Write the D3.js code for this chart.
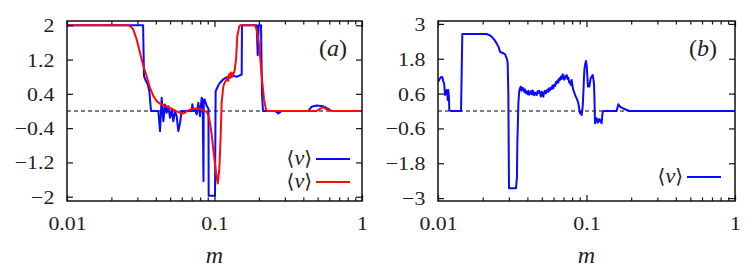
<!DOCTYPE html>
<html>
<head>
<meta charset="utf-8">
<script src="https://cdn.jsdelivr.net/npm/d3@7"></script>
<style>
body { margin: 0; background: #fff; }
svg { display: block; }
svg text { font-family: "Times New Roman", Times, "Liberation Serif", "DejaVu Serif", serif; }
</style>
</head>
<body>
<div id="chart"></div>
<script>
const width = 750;
const height = 275;

// panel (a), blue curve
const mBlueA = [0.01, 0.0328, 0.03327, 0.03433, 0.03524, 0.03617, 0.03712, 0.04161, 0.04272, 0.04384,
  0.04500, 0.04618, 0.04739, 0.04864, 0.04993, 0.05124, 0.05259, 0.05398, 0.05540, 0.05686,
  0.05836, 0.05989, 0.07001, 0.07074, 0.07186, 0.07376, 0.07571, 0.07770, 0.07973, 0.08185,
  0.08314, 0.0842, 0.0845, 0.0858, 0.0885, 0.0910, 0.0913, 0.1008, 0.1018, 0.1062,
  0.1090, 0.1148, 0.1209, 0.1274, 0.1342, 0.1413, 0.1529, 0.1535, 0.1932, 0.1963,
  0.1994, 0.2067, 0.2099, 0.2132, 0.2571, 0.2709, 0.2854, 0.4327, 0.4559, 0.4928,
  0.5470, 0.5911, 0.6229, 1];
const vBlueA = [2, 2, 0.81, 0.70, 0.62, 0.46, 0, 0, -0.47, 0.31,
  -0.24, 0.15, -0.04, 0.11, -0.16, 0.04, -0.24, 0, -0.12, -0.47,
  -0.28, 0, 0, 0.16, 0, 0.03, -0.08, 0.19, -0.12, 0.31,
  0.27, -1.64, 0.15, 0.27, 0.12, 0.05, -1.98, -1.98, 0.46, 0.6,
  0.66, 0.74, 0.79, 0.78, 0.82, 0.80, 0.85, 2, 2, 1.3,
  2, 2, 0.4, 0, 0, -0.06, 0, 0, 0.1, 0.13,
  0.11, 0.05, 0, 0];

// panel (a), red curve
const mRedA = [0.01, 0.02605, 0.02710, 0.02817, 0.02967, 0.03126, 0.03292, 0.03468, 0.03654, 0.03849,
  0.04054, 0.04272, 0.04500, 0.04739, 0.05000, 0.05259, 0.05550, 0.05836, 0.06147, 0.06477,
  0.06800, 0.07186, 0.07600, 0.07973, 0.08400, 0.08848, 0.09100, 0.09322, 0.09570, 0.09820,
  0.1024, 0.1051, 0.1078, 0.1101, 0.1118, 0.1148, 0.1180, 0.1209, 0.1225, 0.1240,
  0.1255, 0.1274, 0.1290, 0.1310, 0.1325, 0.1342, 0.1370, 0.1399, 0.1428, 0.1473,
  0.1489, 0.1882, 0.1932, 0.2014, 0.2089, 0.2166, 0.2235, 0.2282, 0.4928, 0.5191,
  0.5470, 0.5762, 0.6229, 1];
const vRedA = [2, 2, 1.97, 1.9, 1.67, 1.36, 1.05, 0.81, 0.54, 0.35,
  0.23, 0.17, 0.14, 0.11, 0.07, 0.03, -0.01, -0.04, -0.06, -0.01,
  0.03, 0.05, 0.06, 0.05, 0.02, -0.02, -0.10, -0.28, -0.55, -0.9,
  -1.44, -1.69, -1.36, -0.59, 0.19, 0.58, 0.68, 0.73, 0.80, 0.70,
  0.86, 0.78, 0.90, 0.80, 0.88, 0.85, 0.95, 1.2, 1.75, 1.98,
  2, 2, 1.9, 1.51, 0.81, 0.27, 0.03, 0, 0, 0.05,
  0.09, 0.04, 0, 0];

// panel (b), blue curve
const mBlueB = [0.01, 0.01030, 0.01059, 0.01072, 0.01086, 0.01100, 0.01115, 0.01130, 0.01144, 0.01155,
  0.01162, 0.01168, 0.01174, 0.01185, 0.01192, 0.01217, 0.01429, 0.01458, 0.02127, 0.02210,
  0.02298, 0.02390, 0.02484, 0.02560, 0.02616, 0.02754, 0.02830, 0.02871, 0.02920, 0.02946,
  0.02976, 0.03007, 0.03352, 0.03400, 0.03422, 0.03480, 0.03530, 0.03604, 0.03650, 0.03700,
  0.03754, 0.03800, 0.03850, 0.03900, 0.03954, 0.04010, 0.04060, 0.04110, 0.04165, 0.04220,
  0.04280, 0.04330, 0.04385, 0.04440, 0.04500, 0.04560, 0.04618, 0.04680, 0.04740, 0.04800,
  0.04863, 0.04930, 0.05000, 0.05060, 0.05121, 0.05180, 0.05250, 0.05320, 0.05393, 0.05460,
  0.05540, 0.05600, 0.05679, 0.05750, 0.05830, 0.05900, 0.05981, 0.06060, 0.06140, 0.06220,
  0.06298, 0.06380, 0.06460, 0.06540, 0.06631, 0.06720, 0.06800, 0.06900, 0.06982, 0.07070,
  0.07167, 0.07260, 0.07354, 0.07450, 0.07550, 0.07650, 0.07744, 0.07846, 0.07946, 0.08050,
  0.08154, 0.08300, 0.08450, 0.08587, 0.08700, 0.08810, 0.08920, 0.09041, 0.09160, 0.09279,
  0.09424, 0.09520, 0.09621, 0.09720, 0.09820, 0.09920, 0.1003, 0.1013, 0.1024, 0.1045,
  0.1067, 0.1085, 0.1100, 0.1112, 0.1123, 0.1132, 0.1141, 0.1156, 0.1171, 0.1187,
  0.1202, 0.1218, 0.1233, 0.1250, 0.1265, 0.1275, 0.1285, 0.1312, 0.1596, 0.1638,
  0.1681, 0.1750, 0.1817, 0.1943, 1];
const vBlueB = [1.0, 1.12, 1.18, 1.15, 1.01, 0.95, 0.55, 0.60, 0.72, 0.65,
  0.38, 0.55, 0.72, 0.45, 0.03, 0, 0, 2.65, 2.65, 2.62,
  2.56, 2.46, 2.33, 2.2, 2.04, 1.99, 1.95, 1.87, 1.78, 1.64,
  0.61, -2.66, -2.66, -2.3, -1.11, 0.3, 0.72, 0.84, 0.70, 0.80,
  0.78, 0.66, 0.74, 0.62, 0.67, 0.58, 0.70, 0.56, 0.61, 0.68,
  0.57, 0.71, 0.67, 0.54, 0.63, 0.58, 0.55, 0.68, 0.62, 0.70,
  0.61, 0.50, 0.66, 0.60, 0.49, 0.64, 0.70, 0.60, 0.67, 0.74,
  0.66, 0.78, 0.72, 0.80, 0.76, 0.88, 0.78, 0.90, 0.86, 1.00,
  0.95, 1.05, 0.98, 1.12, 1.07, 1.18, 1.10, 1.26, 1.24, 1.08,
  1.13, 1.20, 1.24, 1.10, 1.15, 0.98, 1.01, 0.90, 1.07, 0.85,
  0.72, 0.62, 0.50, 0.44, 0.36, 0.26, 0.10, -0.08, -0.02, -0.14,
  0.15, 0.60, 1.18, 1.52, 1.64, 1.72, 1.58, 1.20, 0.84, 0.84,
  1.13, 1.18, 1.24, 1.10, 0.95, 0.40, -0.42, -0.30, -0.25, -0.40,
  -0.37, -0.28, -0.31, -0.38, -0.42, -0.20, -0.02, 0, 0, 0.23,
  0.15, 0.10, 0.06, 0, 0];

// ticks
const xMajor = [0.01, 0.1, 1];
const xMinor = [0.02, 0.03, 0.04, 0.05, 0.06, 0.07, 0.08, 0.09, 0.2, 0.3, 0.4, 0.5, 0.6, 0.7, 0.8, 0.9];
const yTicksA = [-2, -1.2, -0.4, 0.4, 1.2, 2];
const yTicksB = [-3, -1.8, -0.6, 0.6, 1.8, 3];

const blue = "#0a0aff";
const red = "#ff0a0a";
const serif = "Times New Roman, Times, Liberation Serif, DejaVu Serif, serif";

let svg = d3.select("#chart")
  .append("svg")
  .attr("width", width)
  .attr("height", height)
  .attr("font-family", serif);

const fmt = d => (d < 0 ? "\u2212" : "") + Math.abs(d);

//draws one panel
function makePanel(p) {
  let xScale = d3.scaleLog().domain([0.01, 1]).range([p.left, p.right]);
  let yScale = d3.scaleLinear().domain(p.yDomain).range([p.bottom, p.top]);
  let g = svg.append("g");

  g.append("clipPath").attr("id", "clip" + p.id)
    .append("rect")
    .attr("x", p.left).attr("y", p.top)
    .attr("width", p.right - p.left).attr("height", p.bottom - p.top);

  //dashed zero line
  g.append("line")
    .attr("x1", p.left).attr("x2", p.right)
    .attr("y1", yScale(0)).attr("y2", yScale(0))
    .attr("stroke", "#000")
    .attr("stroke-width", 1)
    .attr("stroke-dasharray", "4,3");

  let line = d3.line()
    .x(d => xScale(d[0]))
    .y(d => yScale(d[1]));

  p.series.forEach(s => {
    g.append("path")
      .datum(d3.zip(s.m, s.v))
      .attr("clip-path", "url(#clip" + p.id + ")")
      .attr("fill", "none")
      .attr("stroke", s.color)
      .attr("stroke-width", 2)
      .attr("stroke-linejoin", "round")
      .attr("d", line);
  });

  const styleAxis = a => {
    a.select(".domain").remove();
    a.attr("font-size", null).attr("font-family", null);
    a.selectAll("line").attr("stroke", "#111").attr("stroke-width", 1.2);
  };

  //left axis with labels
  g.append("g")
    .attr("transform", "translate(" + p.left + ",0)")
    .call(d3.axisLeft(yScale).tickValues(p.yTicks).tickSize(-6).tickPadding(11).tickFormat(fmt))
    .call(styleAxis)
    .selectAll("text")
    .attr("transform", "scale(1.15,1)")
    .attr("dy", "0.34em")
    .attr("font-size", 19)
    .attr("fill", "#222");

  //right axis
  g.append("g")
    .attr("transform", "translate(" + p.right + ",0)")
    .call(d3.axisRight(yScale).tickValues(p.yTicks).tickSize(-6).tickFormat(""))
    .call(styleAxis);

  //bottom axis
  g.append("g")
    .attr("transform", "translate(0," + p.bottom + ")")
    .call(d3.axisBottom(xScale).tickValues(xMajor).tickSize(-6).tickFormat(d => String(d)))
    .call(styleAxis)
    .selectAll("text")
    .attr("y", 29.5)
    .attr("dy", 0)
    .attr("transform", "scale(1.15,1)")
    .attr("font-size", 19)
    .attr("fill", "#222");

  g.append("g")
    .attr("transform", "translate(0," + p.bottom + ")")
    .call(d3.axisBottom(xScale).tickValues(xMinor).tickSize(-3.5).tickFormat(""))
    .call(styleAxis);

  //top axis
  g.append("g")
    .attr("transform", "translate(0," + p.top + ")")
    .call(d3.axisTop(xScale).tickValues(xMajor).tickSize(-6).tickFormat(""))
    .call(styleAxis);
  g.append("g")
    .attr("transform", "translate(0," + p.top + ")")
    .call(d3.axisTop(xScale).tickValues(xMinor).tickSize(-3.5).tickFormat(""))
    .call(styleAxis);

  //frame
  g.append("rect")
    .attr("x", p.left).attr("y", p.top)
    .attr("width", p.right - p.left).attr("height", p.bottom - p.top)
    .attr("fill", "none")
    .attr("stroke", "#111")
    .attr("stroke-width", 1.5);

  //x title
  g.append("text")
    .attr("x", (p.left + p.right) / 2)
    .attr("y", 263)
    .attr("text-anchor", "middle")
    .attr("font-style", "italic")
    .attr("font-size", 24)
    .attr("fill", "#222")
    .text("m");

  //panel label
  let lab = g.append("text")
    .attr("x", p.labelX)
    .attr("y", 56)
    .attr("text-anchor", "middle")
    .attr("font-size", 24)
    .attr("fill", "#222");
  lab.append("tspan").text("(");
  lab.append("tspan").attr("font-style", "italic").text(p.label);
  lab.append("tspan").text(")");

  //legend
  p.series.forEach((s, i) => {
    let ly = p.legendY + i * 23;
    let t = g.append("text")
      .attr("x", p.legendX - 4)
      .attr("y", ly + 6)
      .attr("text-anchor", "end")
      .attr("font-size", 20)
      .attr("fill", "#222");
    t.append("tspan").text("\u27E8");
    t.append("tspan").attr("font-style", "italic").attr("font-size", 22).text("v");
    t.append("tspan").text("\u27E9");
    g.append("line")
      .attr("x1", p.legendX).attr("x2", p.legendX + 34)
      .attr("y1", ly).attr("y2", ly)
      .attr("stroke", s.color)
      .attr("stroke-width", 2);
  });
}

makePanel({
  id: "a", left: 67, right: 362, top: 21, bottom: 201,
  yDomain: [-2.1, 2.1], yTicks: yTicksA,
  series: [{ m: mBlueA, v: vBlueA, color: blue }, { m: mRedA, v: vRedA, color: red }],
  label: "a", labelX: 333, legendX: 316, legendY: 159
});

makePanel({
  id: "b", left: 438, right: 735, top: 21, bottom: 201,
  yDomain: [-3.1, 3.1], yTicks: yTicksB,
  series: [{ m: mBlueB, v: vBlueB, color: blue }],
  label: "b", labelX: 703, legendX: 687, legendY: 177
});
</script>
</body>
</html>
